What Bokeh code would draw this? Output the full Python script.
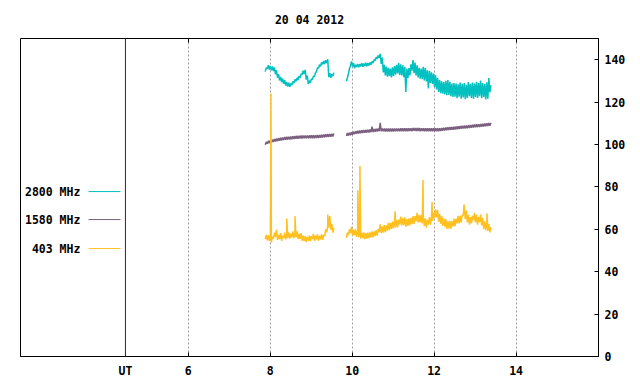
import numpy as np
from bokeh.plotting import figure
from bokeh.models import (Range1d, LinearAxis, FixedTicker, Span, Label, Grid,
                          CustomJSTickFormatter)
from bokeh.embed import file_html
from bokeh.resources import INLINE

# ---------------- data ----------------
TITLE = "20 04 2012"
SERIES_NAMES = ["2800 MHz", "1580 MHz", "403 MHz"]
SERIES_COLORS = ["#00C0C0", "#7B5F7F", "#FFC020"]

X_TICKS = [6, 8, 10, 12, 14]
UT_POS = 4.47
UT_LABEL = "UT"
Y_TICKS = [0, 20, 40, 60, 80, 100, 120, 140]

# two observing segments, sampled in bins of STEP hours; each bin has the
# low and high edge of the (dense) trace read from the picture
SEG1_START = 7.88
SEG2_START = 9.86
STEP = 0.05

f2800_seg1_lo = [134.4, 135.8, 135.4, 135.0, 134.6, 133.1, 131.5, 130.2, 129.4, 128.6,
                 127.8, 127.3, 127.2, 128.0, 129.0, 129.8, 130.4, 131.5, 133.0, 133.3,
                 130.6, 128.5, 129.1, 130.6, 132.1, 134.4, 136.0, 136.9, 137.8, 137.9,
                 138.4, 131.8, 131.5, 132.3]
f2800_seg1_hi = [136.2, 137.4, 137.0, 136.8, 136.3, 135.0, 133.2, 131.9, 131.1, 130.4,
                 129.5, 129.1, 128.8, 129.8, 130.7, 131.4, 132.3, 133.3, 134.8, 135.2,
                 132.5, 130.1, 130.9, 132.2, 133.8, 136.2, 137.6, 138.7, 139.4, 139.8,
                 140.2, 133.6, 133.2, 133.9]
f2800_seg2_lo = [129.8, 133.5, 137.2, 136.8, 136.0, 136.6, 136.4, 136.8, 136.7, 137.0,
                 136.9, 137.2, 137.6, 138.4, 139.6, 140.4, 141.0, 138.0, 134.0, 132.6,
                 132.0, 132.2, 131.6, 132.4, 133.0, 133.5, 132.8, 132.6, 131.8, 124.8,
                 131.4, 132.6, 134.8, 133.6, 132.6, 131.6, 131.0, 130.8, 130.2, 129.8,
                 126.4, 129.0, 128.6, 127.2, 126.0, 124.8, 124.2, 124.0, 123.6, 123.2,
                 123.4, 122.8, 122.4, 122.5, 121.8, 122.6, 121.6, 122.2, 121.4, 122.0,
                 122.8, 122.0, 121.6, 122.4, 122.0, 122.8, 121.8, 122.4, 121.2, 121.6,
                 124.6]
f2800_seg2_hi = [131.5, 135.8, 139.2, 138.4, 137.6, 138.0, 137.9, 138.4, 138.2, 138.6,
                 138.4, 138.7, 139.2, 140.0, 141.2, 142.0, 142.8, 141.0, 137.6, 136.8,
                 136.2, 135.8, 136.4, 137.0, 137.6, 138.4, 137.8, 137.4, 136.6, 135.8,
                 136.0, 137.8, 139.8, 138.6, 137.4, 136.2, 135.8, 136.6, 136.2, 135.0,
                 134.8, 134.0, 133.4, 132.6, 131.4, 130.4, 129.8, 129.4, 130.0, 130.4,
                 129.6, 128.8, 129.0, 128.8, 128.4, 129.2, 128.6, 129.0, 128.2, 129.4,
                 128.6, 129.2, 128.8, 129.6, 129.0, 130.2, 129.0, 128.6, 129.4, 131.4,
                 128.0]

f1580_seg1_lo = [99.9, 100.3, 100.6, 100.9, 101.2, 101.4, 101.6, 101.8, 101.9, 102.1,
                 102.2, 102.3, 102.4, 102.5, 102.6, 102.7, 102.7, 102.8, 102.8, 102.9,
                 102.9, 102.9, 103.0, 103.0, 103.0, 103.1, 103.1, 103.2, 103.3, 103.4,
                 103.5, 103.6, 103.7, 103.8]
f1580_seg1_hi = [101.2, 101.7, 102.0, 102.3, 102.6, 102.8, 103.0, 103.2, 103.3, 103.5,
                 103.6, 103.7, 103.8, 103.9, 104.0, 104.1, 104.1, 104.2, 104.2, 104.3,
                 104.3, 104.3, 104.4, 104.4, 104.4, 104.5, 104.5, 104.6, 104.7, 104.8,
                 104.9, 105.0, 105.1, 105.2]
f1580_seg2_lo = [104.0, 104.2, 104.4, 104.6, 104.9, 105.1, 105.2, 105.3, 105.4, 105.5,
                 105.6, 105.7, 105.8, 105.9, 106.0, 106.1, 106.3, 106.2, 106.2, 106.1,
                 106.1, 106.1, 106.1, 106.1, 106.2, 106.2, 106.3, 106.3, 106.3, 106.3,
                 106.2, 106.4, 106.3, 106.5, 106.3, 106.4, 106.2, 106.4, 106.3, 106.2,
                 106.3, 106.3, 106.3, 106.3, 106.3, 106.3, 106.4, 106.5, 106.6, 106.7,
                 106.8, 106.9, 107.0, 107.1, 107.2, 107.3, 107.4, 107.5, 107.6, 107.7,
                 107.8, 107.9, 108.0, 108.1, 108.2, 108.3, 108.4, 108.5, 108.6, 108.7,
                 108.8]
f1580_seg2_hi = [105.4, 105.6, 105.8, 106.0, 106.3, 106.5, 106.6, 106.7, 106.8, 106.9,
                 107.0, 107.1, 108.4, 107.3, 107.4, 107.5, 110.2, 107.6, 107.6, 107.5,
                 107.5, 107.5, 107.5, 107.5, 107.6, 107.6, 107.7, 107.7, 107.7, 107.7,
                 107.7, 107.7, 107.8, 107.8, 107.8, 107.8, 107.7, 107.7, 107.7, 107.7,
                 107.7, 107.7, 107.7, 107.7, 107.7, 107.7, 107.8, 107.9, 108.0, 108.1,
                 108.2, 108.3, 108.4, 108.5, 108.6, 108.7, 108.8, 108.9, 109.0, 109.1,
                 109.2, 109.3, 109.4, 109.5, 109.6, 109.7, 109.8, 109.9, 110.0, 110.1,
                 110.2]

f403_seg1_lo = [55.4, 54.8, 54.6, 53.8, 55.6, 56.4, 55.0, 55.4, 54.6, 55.8,
                55.2, 55.8, 55.6, 56.2, 55.8, 56.2, 55.4, 55.4, 54.6, 54.4,
                54.0, 54.6, 54.4, 55.4, 54.6, 55.2, 54.6, 55.2, 55.0, 56.8,
                58.6, 60.8, 59.8, 58.4]
f403_seg1_hi = [57.4, 57.2, 56.8, 56.6, 58.4, 59.8, 57.4, 58.2, 57.0, 58.4,
                57.6, 58.6, 58.0, 59.0, 58.2, 59.0, 57.8, 58.2, 57.0, 56.8,
                56.4, 57.0, 56.8, 57.8, 57.0, 57.6, 57.0, 57.6, 57.4, 60.0,
                61.8, 66.2, 62.6, 60.6]
f403_seg2_lo = [56.0, 57.2, 58.2, 57.0, 57.2, 56.4, 56.2, 55.6, 55.8, 55.4,
                55.6, 55.8, 56.2, 56.2, 56.8, 57.0, 58.6, 58.2, 58.4, 58.6,
                59.4, 59.6, 60.2, 60.4, 60.8, 61.0, 62.2, 61.8, 62.0, 61.2,
                61.6, 61.8, 62.6, 62.6, 63.8, 63.2, 63.2, 62.8, 61.6, 60.8,
                62.2, 62.2, 64.0, 65.4, 65.6, 63.6, 62.6, 61.6, 61.2, 60.2,
                60.4, 60.2, 61.4, 61.4, 62.8, 62.8, 63.2, 66.4, 64.8, 63.2,
                62.2, 62.8, 64.2, 63.2, 62.2, 63.4, 61.8, 60.2, 59.6, 59.2,
                58.6]
f403_seg2_hi = [58.4, 60.0, 61.2, 59.8, 60.0, 59.2, 59.0, 58.4, 58.6, 58.2,
                58.4, 58.6, 59.0, 59.0, 59.6, 60.2, 62.4, 61.4, 62.0, 61.8,
                63.0, 63.0, 63.8, 63.8, 64.4, 64.6, 66.0, 65.4, 65.6, 64.8,
                65.2, 65.4, 66.2, 66.2, 67.8, 66.8, 66.8, 66.4, 65.2, 64.4,
                65.8, 65.8, 67.8, 69.4, 69.2, 67.2, 66.2, 65.2, 64.8, 63.8,
                64.0, 63.8, 65.0, 65.0, 66.4, 66.4, 66.8, 71.0, 68.8, 66.8,
                65.8, 66.4, 67.8, 66.8, 65.8, 67.0, 65.4, 63.8, 63.2, 62.4,
                61.0]
# isolated spikes of the 403 MHz trace (hour, value)
f403_spike_t = [8.02, 8.405, 8.605, 9.405, 10.14, 10.19, 11.05, 11.73, 11.95, 12.73, 13.29]
f403_spike_v = [124.0, 65.1, 66.2, 67.0, 78.4, 89.8, 68.5, 83.2, 72.9, 71.7, 67.5]

# ---------------- build ----------------
FONT = "DejaVu Sans Mono"
FSIZE = "11.5px"


def trace(start, lo, hi, spike_t=(), spike_v=()):
    n = min(len(lo), len(hi))
    t0 = start + STEP * np.arange(n)
    tt = np.empty(2 * n)
    vv = np.empty(2 * n)
    tt[0::2] = t0
    tt[1::2] = t0 + STEP / 2
    vv[0::2] = lo[:n]
    vv[1::2] = hi[:n]
    end = tt[-1]
    sel = [i for i, s in enumerate(spike_t) if start <= s <= end]
    tt = np.concatenate([tt, np.asarray([spike_t[i] for i in sel], dtype=float)])
    vv = np.concatenate([vv, np.asarray([spike_v[i] for i in sel], dtype=float)])
    order = np.argsort(tt, kind="stable")
    return tt[order], vv[order]


p = figure(width=632, height=381,
           x_range=Range1d(1.91, 16.01), y_range=Range1d(0, 150),
           x_axis_type=None, y_axis_type=None,
           output_backend="svg", toolbar_location=None,
           min_border_left=20, min_border_right=34,
           min_border_top=38, min_border_bottom=25)
p.outline_line_color = "black"
p.outline_line_width = 1
p.background_fill_color = "white"
p.border_fill_color = "white"

p.title.text = TITLE
p.title.align = "center"
p.title.vertical_align = "middle"
p.title.text_font = FONT
p.title.text_font_size = FSIZE
p.title.text_font_style = "bold"
p.title.text_color = "black"
p.title.standoff = 22

grid = Grid(dimension=0, ticker=FixedTicker(ticks=X_TICKS),
            grid_line_color="#A0A0A0", grid_line_dash="2 2", grid_line_width=1)
p.add_layout(grid)

xb = LinearAxis(ticker=FixedTicker(ticks=[UT_POS] + X_TICKS),
                formatter=CustomJSTickFormatter(
                    args=dict(ut=UT_POS, lab=UT_LABEL),
                    code="return Math.abs(tick - ut) < 1e-6 ? lab : tick.toFixed(0);"),
                major_tick_in=4, major_tick_out=0, minor_tick_line_color=None,
                axis_line_color="black", major_tick_line_color="black",
                major_label_standoff=7,
                major_label_text_font=FONT, major_label_text_font_size=FSIZE,
                major_label_text_font_style="bold", major_label_text_color="black")
p.add_layout(xb, "below")

xt = LinearAxis(ticker=FixedTicker(ticks=X_TICKS),
                formatter=CustomJSTickFormatter(code="return '';"),
                major_tick_in=4, major_tick_out=0, minor_tick_line_color=None,
                axis_line_color=None, major_tick_line_color="black",
                major_label_standoff=0, major_label_text_font_size="0px")
p.add_layout(xt, "above")

yr = LinearAxis(ticker=FixedTicker(ticks=Y_TICKS),
                major_tick_in=4, major_tick_out=0, minor_tick_line_color=None,
                axis_line_color="black", major_tick_line_color="black",
                major_label_standoff=6,
                major_label_text_font=FONT, major_label_text_font_size=FSIZE,
                major_label_text_font_style="bold", major_label_text_color="black")
p.add_layout(yr, "right")

p.add_layout(Span(location=UT_POS, dimension="height", line_color="#8B0000", line_width=1))

all_series = [
    ((f2800_seg1_lo, f2800_seg1_hi), (f2800_seg2_lo, f2800_seg2_hi), (), ()),
    ((f1580_seg1_lo, f1580_seg1_hi), (f1580_seg2_lo, f1580_seg2_hi), (), ()),
    ((f403_seg1_lo, f403_seg1_hi), (f403_seg2_lo, f403_seg2_hi), f403_spike_t, f403_spike_v),
]
for (s1, s2, spt, spv), col in zip(all_series, SERIES_COLORS):
    for start, (lo, hi) in ((SEG1_START, s1), (SEG2_START, s2)):
        t, v = trace(start, lo, hi, spt, spv)
        p.line(t, v, line_color=col, line_width=1.5)

# legend: label on the left, line sample on the right
leg_y = [77.8, 64.6, 50.9]
for name, col, yy in zip(SERIES_NAMES, SERIES_COLORS, leg_y):
    p.add_layout(Label(x=3.37, y=yy, text=name, text_align="right", text_baseline="middle",
                       text_font=FONT, text_font_size=FSIZE, text_font_style="bold",
                       text_color="black"))
    p.segment(x0=[3.57], y0=[yy], x1=[4.35], y1=[yy], line_color=col, line_width=1)

open("out.html", "w").write(file_html(p, INLINE))
